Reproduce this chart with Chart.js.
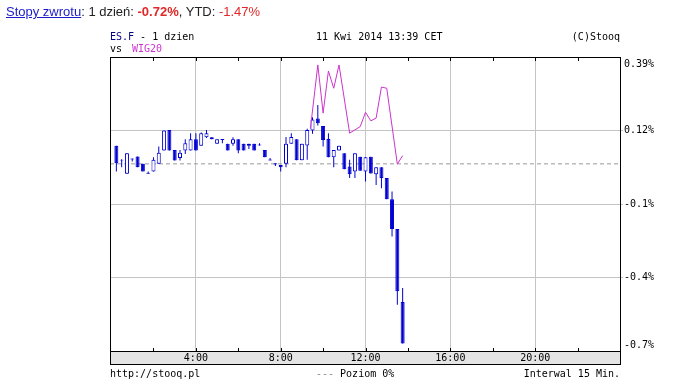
<!DOCTYPE html>
<html>
<head>
<meta charset="utf-8">
<script src="https://cdn.jsdelivr.net/npm/chart.js@4.4.1/dist/chart.umd.min.js"></script>
<style>
  body { margin: 0; background: #fff; }
  #wrap { position: relative; width: 684px; height: 385px; }
  #wrap canvas { position: absolute; left: 0; top: 0; }
  #hdr { position: absolute; left: 6px; top: 4px; font: 13px Arial, "Liberation Sans", sans-serif; line-height: 15px; color: #222; white-space: nowrap; }
  #hdr a { color: #1a1ac8; text-decoration: underline; }
  .red { color: #e02828; }
</style>
</head>
<body>
<div id="wrap">
  <canvas id="chart" width="684" height="385"></canvas>
  <div id="hdr"><a href="#">Stopy zwrotu</a>: 1 dzień: <b class="red">-0.72%</b>, YTD: <span class="red">-1.47%</span></div>
</div>
<script>
// ES.F 15 min candles (hours since midnight), values in % vs previous close
const times = [0.25, 0.5, 0.75, 1, 1.25, 1.5, 1.75, 2, 2.25, 2.5, 2.75, 3, 3.25, 3.5, 3.75, 4,
  4.25, 4.5, 4.75, 5, 5.25, 5.5, 5.75, 6, 6.25, 6.5, 6.75, 7, 7.25, 7.5, 7.75, 8,
  8.25, 8.5, 8.75, 9, 9.25, 9.5, 9.75, 10, 10.25, 10.5, 10.75, 11, 11.25, 11.5, 11.75, 12,
  12.25, 12.5, 12.75, 13, 13.25, 13.5, 13.75];
const opens = [0.066, 0.015, -0.036, 0.020, 0.027, 0.000, -0.032, -0.028, 0.000, 0.049, 0.124, 0.051, 0.021, 0.049, 0.049, 0.090,
  0.066, 0.097, 0.097, 0.073, 0.091, 0.073, 0.073, 0.090, 0.073, 0.066, 0.073, 0.071, 0.051, 0.016, 0.002, -0.004,
  0.000, 0.073, 0.090, 0.013, 0.067, 0.122, 0.166, 0.138, 0.091, 0.024, 0.049, 0.039, -0.010, -0.028, 0.026, -0.028,
  0.026, -0.038, -0.012, -0.052, -0.129, -0.238, -0.504];
const highs = [0.066, 0.017, 0.039, 0.020, 0.027, 0.000, -0.028, 0.024, 0.063, 0.122, 0.124, 0.051, 0.051, 0.090, 0.112, 0.112,
  0.114, 0.124, 0.097, 0.090, 0.091, 0.073, 0.097, 0.090, 0.073, 0.073, 0.073, 0.075, 0.051, 0.021, 0.002, -0.004,
  0.098, 0.112, 0.090, 0.073, 0.128, 0.170, 0.215, 0.138, 0.112, 0.051, 0.066, 0.039, 0.015, 0.039, 0.026, 0.024,
  0.026, -0.012, -0.012, -0.052, -0.101, -0.238, -0.453];
const lows = [-0.028, -0.012, -0.036, 0.009, -0.012, -0.028, -0.036, -0.028, 0.000, 0.049, 0.049, 0.012, 0.012, 0.036, 0.049, 0.049,
  0.066, 0.094, 0.090, 0.073, 0.075, 0.049, 0.066, 0.039, 0.049, 0.054, 0.049, 0.067, 0.024, 0.012, -0.008, -0.028,
  -0.012, 0.073, 0.013, 0.013, 0.015, 0.110, 0.140, 0.063, 0.024, -0.012, 0.049, -0.020, -0.052, -0.052, -0.025, -0.064,
  -0.035, -0.077, -0.089, -0.129, -0.265, -0.514, -0.656];
const closes = [0.002, 0.012, 0.039, 0.016, -0.012, -0.028, -0.036, 0.015, 0.041, 0.122, 0.049, 0.012, 0.041, 0.075, 0.090, 0.049,
  0.112, 0.112, 0.090, 0.090, 0.087, 0.049, 0.090, 0.049, 0.049, 0.073, 0.049, 0.067, 0.024, 0.012, -0.002, -0.012,
  0.073, 0.098, 0.013, 0.073, 0.124, 0.162, 0.148, 0.087, 0.024, 0.051, 0.066, -0.020, -0.038, 0.039, -0.025, 0.024,
  -0.035, -0.012, -0.052, -0.129, -0.238, -0.465, -0.656];

// WIG20 comparison line
const wigTimes = [9.4, 9.75, 10, 10.25, 10.5, 10.75, 11.25, 11.75, 12, 12.25, 12.5, 12.75, 13, 13.5, 13.75];
const wigValues = [0.128, 0.361, 0.185, 0.339, 0.276, 0.361, 0.112, 0.136, 0.188, 0.157, 0.167, 0.280, 0.276, -0.001, 0.030];

// axes
const xMin = -0.05, xMax = 24;
const xTickValues = [4, 8, 12, 16, 20];
const xTickLabels = ['4:00', '8:00', '12:00', '16:00', '20:00'];
const xMinorTicks = [2, 4, 6, 8, 10, 12, 14, 16, 18, 20, 22];
const yMin = -0.683, yMax = 0.39;
const yTickValues = [0.39, 0.122, -0.147, -0.415, -0.683];
const yTickLabels = ['0.39%', '0.12%', '-0.1%', '-0.4%', '-0.7%'];

const BLUE = '#0000d0';
const MONO = '10px "DejaVu Sans Mono", "Liberation Mono", monospace';

const bodies = times.map((t, i) => ({x: t, y: [opens[i], closes[i]]}));
const wicks = times.map((t, i) => ({x: t, y: [lows[i], highs[i]]}));
const wig = wigTimes.map((t, i) => ({x: t, y: wigValues[i]}));

const frame = {
  id: 'frame',
  beforeDraw(chart) {
    const {ctx, chartArea: a} = chart;
    ctx.save();
    ctx.fillStyle = '#e4e4e4';
    ctx.fillRect(a.left, a.bottom, a.right - a.left, 13);
    ctx.restore();
  },
  afterDraw(chart) {
    const {ctx, chartArea: a, scales} = chart;
    const x = scales.x, y = scales.y;
    ctx.save();
    ctx.strokeStyle = '#000';
    ctx.lineWidth = 1;
    ctx.strokeRect(a.left + 0.5, a.top + 0.5, a.right - a.left, a.bottom + 13 - a.top);
    ctx.beginPath();
    ctx.moveTo(a.left, a.bottom + 0.5);
    ctx.lineTo(a.right, a.bottom + 0.5);
    xMinorTicks.forEach(h => {
      const px = Math.round(x.getPixelForValue(h)) + 0.5;
      ctx.moveTo(px, a.top);
      ctx.lineTo(px, a.top + 4);
      ctx.moveTo(px, a.bottom - 3);
      ctx.lineTo(px, a.bottom);
    });
    ctx.stroke();

    ctx.font = MONO;
    ctx.fillStyle = '#000';
    ctx.textBaseline = 'middle';
    yTickLabels.forEach((lab, i) => {
      let py = y.getPixelForValue(yTickValues[i]);
      if (i === 0) py = a.top + 7;
      if (i === yTickLabels.length - 1) py = a.bottom - 6;
      ctx.fillText(lab, a.right + 4, py);
    });

    ctx.textBaseline = 'alphabetic';
    ctx.fillStyle = '#000080';
    ctx.fillText('ES.F', a.left, 40);
    ctx.fillStyle = '#000';
    ctx.fillText(' - 1 dzien', a.left + ctx.measureText('ES.F').width, 40);
    ctx.fillText('11 Kwi 2014 13:39 CET', 316, 40);
    ctx.textAlign = 'right';
    ctx.fillText('(C)Stooq', a.right, 40);
    ctx.textAlign = 'left';
    ctx.fillText('vs', a.left, 52);
    ctx.fillStyle = '#cc33cc';
    ctx.fillText('WIG20', a.left + 22, 52);

    ctx.fillStyle = '#000';
    ctx.fillText('http://stooq.pl', a.left, 377);
    ctx.fillStyle = '#888';
    ctx.fillText('---', 316, 377);
    ctx.fillStyle = '#000';
    ctx.fillText(' Poziom 0%', 316 + ctx.measureText('---').width, 377);
    ctx.textAlign = 'right';
    ctx.fillText('Interwal 15 Min.', a.right, 377);
    ctx.restore();
  }
};

const ctx = document.getElementById('chart').getContext('2d');
const chart = new Chart(ctx, {
  type: 'line',
  data: {
    datasets: [{
      label: 'WIG20',
      data: wig,
      borderColor: '#cc33cc',
      borderWidth: 1,
      pointRadius: 0,
      tension: 0,
      order: 0
    }, {
      type: 'bar',
      label: 'body',
      data: bodies,
      backgroundColor: bodies.map(b => b.y[1] >= b.y[0] ? '#fff' : BLUE),
      borderColor: BLUE,
      borderWidth: 1,
      borderSkipped: false,
      barThickness: 4,
      inflateAmount: 0,
      grouped: false,
      order: 1
    }, {
      type: 'bar',
      label: 'wick',
      data: wicks,
      backgroundColor: BLUE,
      barThickness: 1,
      inflateAmount: 0,
      grouped: false,
      order: 2
    }, {
      label: 'Poziom 0%',
      data: [{x: xMin, y: 0}, {x: xMax, y: 0}],
      borderColor: '#999',
      borderWidth: 1,
      borderDash: [4, 3],
      pointRadius: 0,
      order: 3
    }]
  },
  options: {
    responsive: false,
    animation: false,
    events: [],
    layout: { padding: { left: 110, top: 57, right: 0, bottom: 0 } },
    scales: {
      x: {
        type: 'linear',
        min: xMin,
        max: xMax,
        offset: false,
        grid: { color: '#c4c4c4', drawTicks: false, offset: false },
        border: { display: false },
        ticks: {
          font: { family: '"DejaVu Sans Mono"', size: 10 },
          color: '#000',
          padding: 1,
          maxRotation: 0,
          autoSkip: false,
          callback: (v, i) => xTickLabels[i]
        },
        afterBuildTicks: s => { s.ticks = xTickValues.map(v => ({value: v})); },
        afterFit: s => { s.height = 34; }
      },
      y: {
        position: 'right',
        min: yMin,
        max: yMax,
        grid: {
          color: c => (c.index === 0 || c.index === yTickValues.length - 1) ? 'rgba(0,0,0,0)' : '#c4c4c4',
          tickColor: c => (c.index === 0 || c.index === yTickValues.length - 1) ? 'rgba(0,0,0,0)' : '#c4c4c4',
          tickLength: 3
        },
        border: { display: false },
        ticks: { display: false },
        afterBuildTicks: s => { s.ticks = yTickValues.map(v => ({value: v})); },
        afterFit: s => { s.width = 64; }
      }
    },
    plugins: {
      legend: { display: false },
      tooltip: { enabled: false }
    }
  },
  plugins: [frame]
});
</script>
</body>
</html>
